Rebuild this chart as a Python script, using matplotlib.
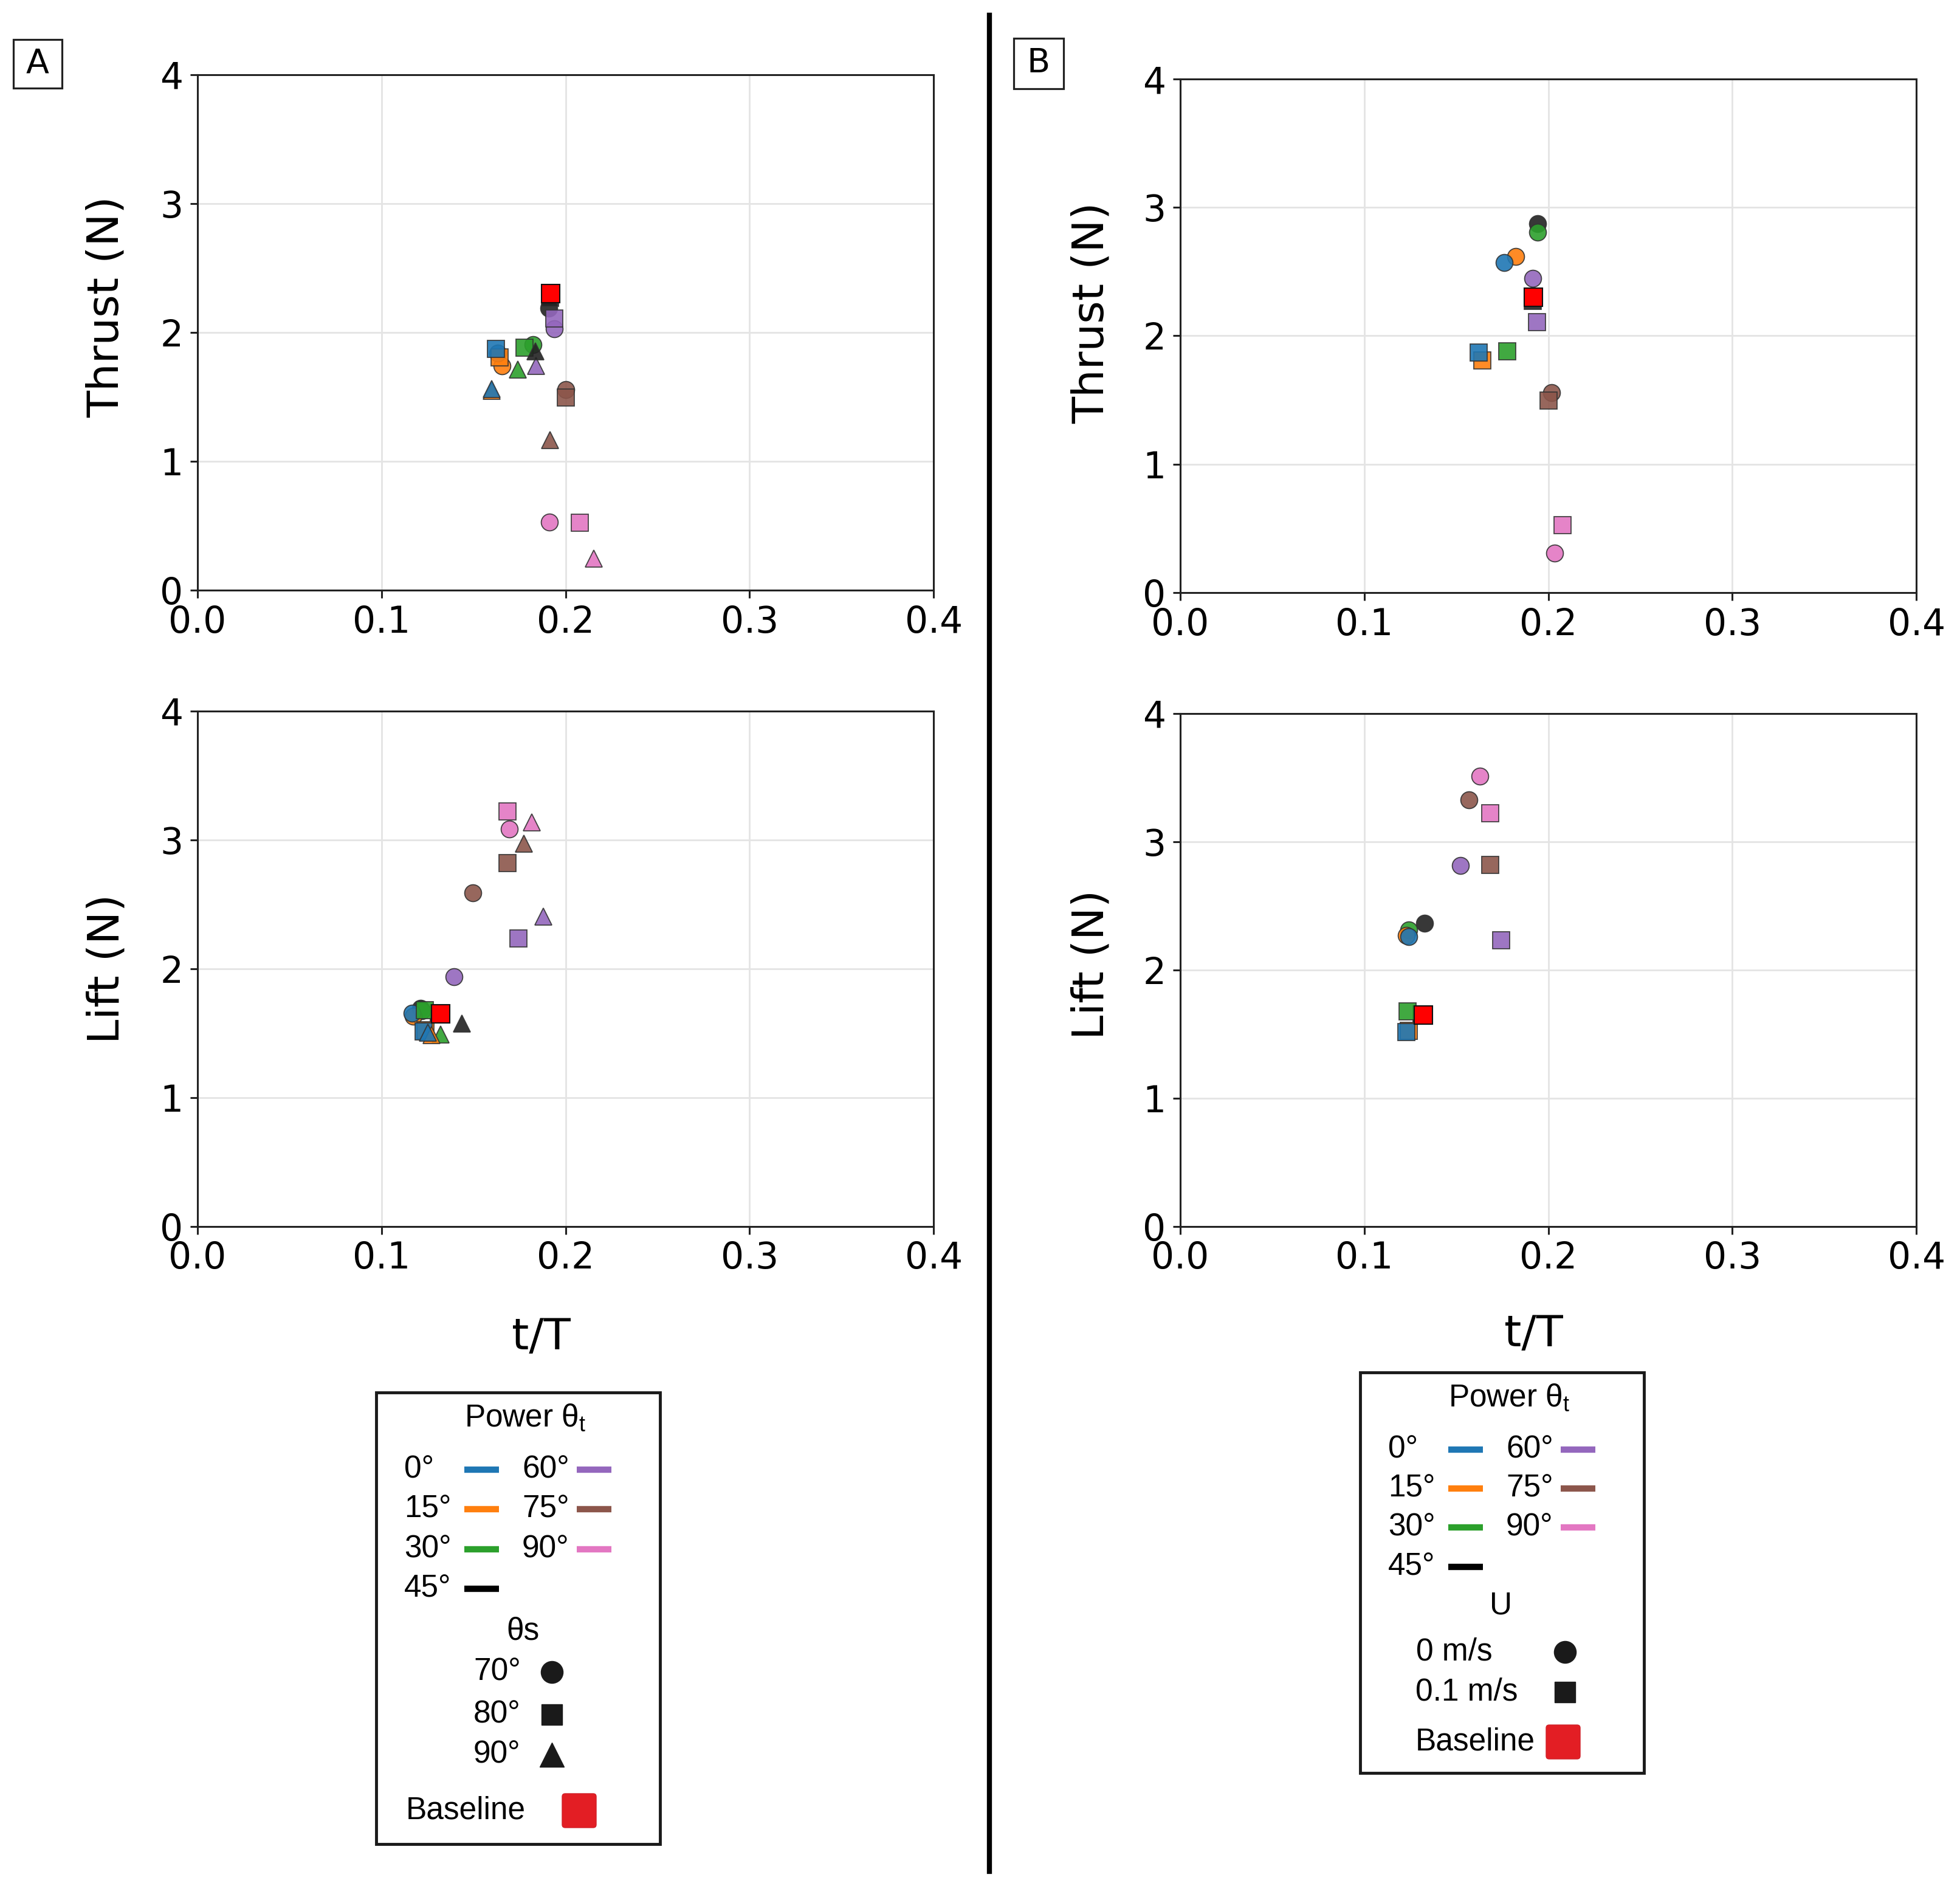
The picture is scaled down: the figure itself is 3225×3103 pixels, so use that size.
import matplotlib
matplotlib.use("Agg")
import matplotlib.pyplot as plt
from matplotlib.patches import Rectangle, FancyBboxPatch
from matplotlib.lines import Line2D

# ---------------- data ----------------
theta_t = [0, 15, 30, 45, 60, 75, 90]
theta_t_labels = ["0°", "15°", "30°", "45°", "60°", "75°", "90°"]
colors = ['#1f77b4', '#ff7f0e', '#2ca02c', '#222222', '#9467bd', '#8c564b', '#e377c2']

# Panel A thrust, theta_s = 70 (circles)
tA_thrust_circ = [0.163, 0.1656, 0.1822, 0.191, 0.194, 0.200, 0.1913]
FA_thrust_circ = [1.84, 1.738, 1.903, 2.19, 2.03, 1.557, 0.529]
# theta_s = 80 / U = 0.1 m/s (squares, shared A & B)
t_thrust_sq = [0.162, 0.164, 0.1776, 0.1915, 0.194, 0.200, 0.2077]
F_thrust_sq = [1.870, 1.807, 1.880, 2.27, 2.108, 1.495, 0.523]
# Panel A thrust, theta_s = 90 (triangles)
tA_thrust_tri = [0.1598, 0.1598, 0.1741, 0.1835, 0.1838, 0.1915, 0.2154]
FA_thrust_tri = [1.562, 1.546, 1.714, 1.852, 1.739, 1.166, 0.2465]
# Panel B thrust, U = 0 m/s (circles)
tB_thrust_circ = [0.176, 0.1824, 0.1942, 0.1942, 0.1916, 0.2019, 0.2035]
FB_thrust_circ = [2.571, 2.620, 2.808, 2.872, 2.449, 1.558, 0.308]

# Panel A lift, theta_s = 70 (circles)
tA_lift_circ = [0.1167, 0.1172, 0.122, 0.1211, 0.1392, 0.1497, 0.1694]
LA_lift_circ = [1.654, 1.63, 1.675, 1.694, 1.940, 2.590, 3.083]
# squares shared
t_lift_sq = [0.123, 0.124, 0.1235, 0.131, 0.1745, 0.1684, 0.1684]
L_lift_sq = [1.515, 1.525, 1.677, 1.655, 2.233, 2.819, 3.220]
# Panel A lift triangles
tA_lift_tri = [0.1252, 0.1272, 0.1322, 0.1437, 0.1878, 0.1772, 0.1817]
LA_lift_tri = [1.503, 1.483, 1.492, 1.575, 2.403, 2.971, 3.137]
# Panel B lift circles (U = 0)
tB_lift_circ = [0.124, 0.1227, 0.124, 0.1326, 0.1524, 0.1568, 0.1628]
LB_lift_circ = [2.262, 2.27, 2.31, 2.365, 2.813, 3.325, 3.513]

# Baseline
base_t_thrust, base_thrust = 0.192, 2.30
base_t_lift, base_lift = 0.132, 1.65

x_ticks = [0.0, 0.1, 0.2, 0.3, 0.4]
y_ticks = [0, 1, 2, 3, 4]

# ---------------- style ----------------
plt.rcParams['font.family'] = ['DejaVu Sans']
plt.rcParams['mathtext.fontset'] = 'custom'
plt.rcParams['mathtext.rm'] = 'Liberation Sans'
plt.rcParams['mathtext.it'] = 'Liberation Sans'

W, H = 3225, 3103
fig = plt.figure(figsize=(W / 100, H / 100), dpi=100)
fig.patch.set_facecolor('white')

MS = 20
EC = '#333333'
EW = 1.3
ALPHA = 0.9


def style_axes(ax, ylabel, xlabel=None, ylab_y=0.5, xlab_x=0.47, xlab_y=-0.17):
    ax.set_xlim(0, 0.4)
    ax.set_ylim(0, 4)
    ax.set_xticks(x_ticks)
    ax.set_xticklabels([f"{v:.1f}" for v in x_ticks])
    ax.set_yticks(y_ticks)
    ax.set_yticklabels([str(v) for v in y_ticks])
    ax.tick_params(labelsize=43, length=9, width=2.2, pad=8, color='#222222')
    ax.grid(True, color='#e4e4e4', linewidth=2)
    ax.set_axisbelow(True)
    for s in ax.spines.values():
        s.set_linewidth(2.2)
        s.set_color('#222222')
    ax.set_ylabel(ylabel, fontsize=52)
    ax.yaxis.set_label_coords(-0.095, ylab_y)
    if xlabel:
        ax.set_xlabel(xlabel, fontsize=52)
        ax.xaxis.set_label_coords(xlab_x, xlab_y)


def plot_series(ax, xs, ys, marker, z):
    # drawn from 90 deg down to 0 deg so lower angles sit on top
    for i in reversed(range(len(xs))):
        ax.plot([xs[i]], [ys[i]], linestyle='none', marker=marker, ms=MS,
                mfc=colors[i], mec=EC, mew=EW, alpha=ALPHA, zorder=z)


def plot_baseline(ax, x, y):
    ax.plot([x], [y], linestyle='none', marker='s', ms=21.5, mfc='#ff0000',
            mec='#111111', mew=1.5, zorder=10)


# axes positions (figure fractions)
axA1 = fig.add_axes([0.1008, 0.6871, 0.3755, 0.2733])
axA2 = fig.add_axes([0.1008, 0.3497, 0.3755, 0.2733])
axB1 = fig.add_axes([0.6022, 0.6858, 0.3755, 0.2723])
axB2 = fig.add_axes([0.6022, 0.3497, 0.3755, 0.2720])

# Panel A thrust
plot_series(axA1, tA_thrust_circ, FA_thrust_circ, 'o', 3)
plot_series(axA1, t_thrust_sq, F_thrust_sq, 's', 4)
plot_series(axA1, tA_thrust_tri, FA_thrust_tri, '^', 5)
plot_baseline(axA1, base_t_thrust, base_thrust)
style_axes(axA1, 'Thrust (N)', ylab_y=0.55)

# Panel A lift
plot_series(axA2, tA_lift_circ, LA_lift_circ, 'o', 3)
plot_series(axA2, t_lift_sq, L_lift_sq, 's', 4)
plot_series(axA2, tA_lift_tri, LA_lift_tri, '^', 5)
plot_baseline(axA2, base_t_lift, base_lift)
style_axes(axA2, 'Lift (N)', 't/T', ylab_y=0.5, xlab_x=0.467, xlab_y=-0.175)

# Panel B thrust
plot_series(axB1, tB_thrust_circ, FB_thrust_circ, 'o', 3)
plot_series(axB1, t_thrust_sq, F_thrust_sq, 's', 4)
plot_baseline(axB1, base_t_thrust, base_thrust)
style_axes(axB1, 'Thrust (N)', ylab_y=0.545)
axB1.yaxis.set_label_coords(-0.092, 0.545)

# Panel B lift
plot_series(axB2, tB_lift_circ, LB_lift_circ, 'o', 3)
plot_series(axB2, t_lift_sq, L_lift_sq, 's', 4)
plot_baseline(axB2, base_t_lift, base_lift)
style_axes(axB2, 'Lift (N)', 't/T', ylab_y=0.51, xlab_x=0.48, xlab_y=-0.169)
axB2.yaxis.set_label_coords(-0.092, 0.51)

# divider line
fig.add_artist(Line2D([0.5048, 0.5048], [0.0077, 0.992], transform=fig.transFigure,
                      color='black', linewidth=6))

# panel labels
for (x0, y0, w, h, cx, cy, lab) in [
        (0.00682, 0.9533, 0.0248, 0.0258, 0.0192, 0.9662, 'A'),
        (0.5172, 0.9530, 0.0254, 0.0267, 0.5299, 0.9665, 'B')]:
    fig.add_artist(Rectangle((x0, y0), w, h, transform=fig.transFigure,
                             fill=False, edgecolor='#222222', linewidth=2.3))
    fig.text(cx, cy, lab, fontsize=40, ha='center', va='center')

# ---------------- legends ----------------
LEGFONT = ['Liberation Sans', 'DejaVu Sans']
LFS = 37


def make_legend(left_px, top_px, w_px, h_px, rows_y, sub_title, sub_y, entries, base_y,
                base_label_x, sub_x):
    ax = fig.add_axes([left_px / W, 1 - (top_px + h_px) / H, w_px / W, h_px / H])
    ax.set_xlim(0, w_px)
    ax.set_ylim(h_px, 0)
    ax.axis('off')
    ax.add_patch(Rectangle((0, 0), w_px, h_px, fill=False, edgecolor='#1a1a1a',
                           linewidth=3.5, clip_on=False))
    ax.text(245, 42, 'Power θ$_\\mathrm{t}$', fontsize=LFS, ha='center', va='center',
            family=LEGFONT)
    # two columns of power angles
    col1 = [0, 1, 2, 3]
    col2 = [4, 5, 6]
    for r, i in enumerate(col1):
        y = rows_y[r]
        ax.text(46, y, theta_t_labels[i], fontsize=LFS, ha='left', va='center', family=LEGFONT)
        ax.plot([145, 202], [y, y], color=('black' if i == 3 else colors[i]), lw=7.5,
                solid_capstyle='butt')
    for r, i in enumerate(col2):
        y = rows_y[r]
        ax.text(240, y, theta_t_labels[i], fontsize=LFS, ha='left', va='center', family=LEGFONT)
        ax.plot([330, 387], [y, y], color=colors[i], lw=7.5, solid_capstyle='butt')
    ax.text(sub_x, sub_y, sub_title, fontsize=LFS, ha='center', va='center', family=LEGFONT)
    for (lx, ly, label, mk, mx, ms) in entries:
        ax.text(lx, ly, label, fontsize=LFS, ha='left', va='center', family=LEGFONT)
        ax.plot([mx], [ly], marker=mk, ms=ms, color='#1a1a1a', linestyle='none')
    ax.text(base_label_x, base_y, 'Baseline', fontsize=LFS, ha='left', va='center',
            family=LEGFONT)
    bx = 334
    ax.add_patch(FancyBboxPatch((bx - 26, base_y - 26), 52, 52,
                                boxstyle='round,pad=2,rounding_size=5',
                                facecolor='#e31e24', edgecolor='#d02028', linewidth=1))
    return ax


make_legend(619, 2291, 467, 743, [127, 192, 258, 323], 'θs', 393,
            [(160, 460, '70°', 'o', 289, 26),
             (160, 530, '80°', 's', 289, 24),
             (160, 596, '90°', '^', 289, 29)],
            688, 49, 241)

make_legend(2238, 2258, 467, 659, [127, 191, 255, 320], 'U', 384,
            [(92, 460, '0 m/s', 'o', 337, 26),
             (91, 526, '0.1 m/s', 's', 337, 24)],
            608, 91, 232)

fig.savefig('out.png', dpi=100, facecolor='white')
